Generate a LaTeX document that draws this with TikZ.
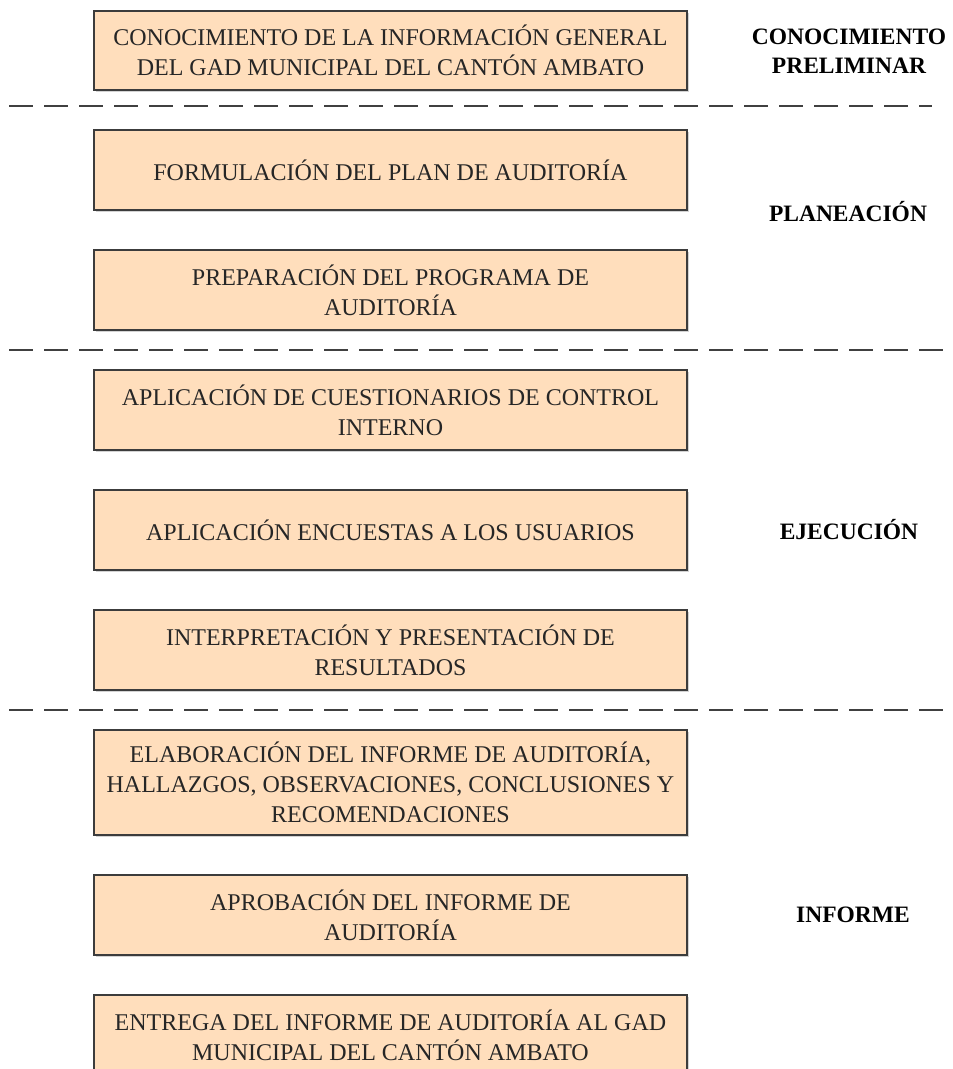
\documentclass[tikz,border=0pt]{standalone}
\usepackage{fontspec}
\setmainfont{Liberation Serif}
\usepackage{tikz}
\usetikzlibrary{shadows}
\definecolor{boxpeach}{RGB}{255,222,188}
\definecolor{boxline}{RGB}{60,60,60}

\tikzset{
  stagebox/.style={draw=boxline,line width=1.4pt,fill=boxpeach,
    minimum width=593pt,inner sep=0pt,align=center,
    font=\fontsize{24}{30}\selectfont,text=black!85,
    drop shadow={opacity=0.35,shadow xshift=1.6pt,shadow yshift=-1.6pt}},
  phaselabel/.style={align=center,font=\fontsize{23.5}{29.5}\selectfont\bfseries},
  divider/.style={draw=black!75,line width=1.4pt,dash pattern=on 24pt off 11pt}
}

\begin{document}
\begin{tikzpicture}[x=1pt,y=-1pt]
  \useasboundingbox (0,0) rectangle (953,1069);
  % fases
  \node[stagebox,minimum height=79pt] (conoc) at (390.5,50.5)
    {CONOCIMIENTO DE LA INFORMACIÓN GENERAL\\DEL GAD MUNICIPAL DEL CANTÓN AMBATO};
  \node[stagebox,minimum height=80pt] (plan) at (390.5,170)
    {FORMULACIÓN DEL PLAN DE AUDITORÍA};
  \node[stagebox,minimum height=80pt] (prog) at (390.5,290)
    {PREPARACIÓN DEL PROGRAMA DE\\AUDITORÍA};
  \node[stagebox,minimum height=80pt] (cuest) at (390.5,410)
    {APLICACIÓN DE CUESTIONARIOS DE CONTROL\\INTERNO};
  \node[stagebox,minimum height=80pt] (encu) at (390.5,530)
    {APLICACIÓN ENCUESTAS A LOS USUARIOS};
  \node[stagebox,minimum height=80pt] (interp) at (390.5,650)
    {INTERPRETACIÓN Y PRESENTACIÓN DE\\RESULTADOS};
  \node[stagebox,minimum height=105pt] (elab) at (390.5,782.5)
    {ELABORACIÓN DEL INFORME DE AUDITORÍA,\\HALLAZGOS, OBSERVACIONES, CONCLUSIONES Y\\RECOMENDACIONES};
  \node[stagebox,minimum height=80pt] (aprob) at (390.5,915)
    {APROBACIÓN DEL INFORME DE\\AUDITORÍA};
  \node[stagebox,minimum height=80pt] (entrega) at (390.5,1035)
    {ENTREGA DEL INFORME DE AUDITORÍA AL GAD\\MUNICIPAL DEL CANTÓN AMBATO};
  % etiquetas
  \node[phaselabel] (lblconoc) at (849,51) {CONOCIMIENTO\\PRELIMINAR};
  \node[phaselabel] (lblplan) at (848,212) {PLANEACIÓN};
  \node[phaselabel] (lblejec) at (849,530) {EJECUCIÓN};
  \node[phaselabel] (lblinf) at (853,915) {INFORME};
  % separadores
  \draw[divider] (9,106) -- (932,106);
  \draw[divider] (9,350) -- (953,350);
  \draw[divider] (9,710) -- (953,710);
\end{tikzpicture}
\end{document}
